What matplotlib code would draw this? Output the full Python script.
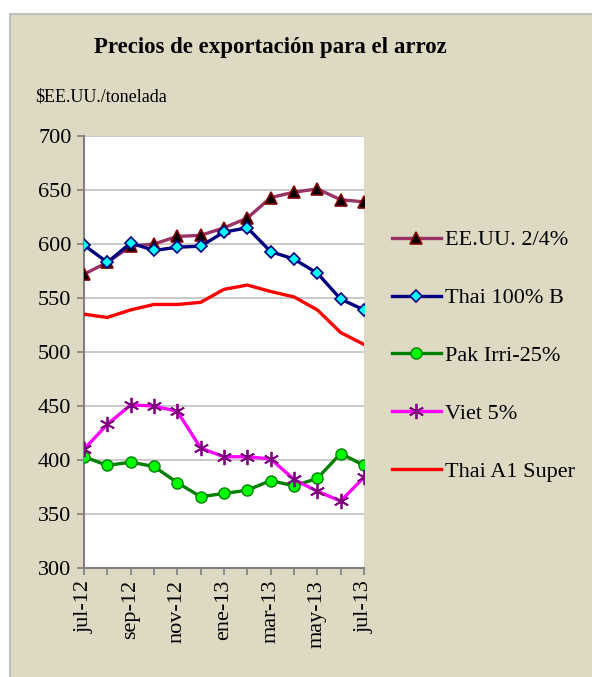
import matplotlib
matplotlib.use("Agg")
import matplotlib.pyplot as plt
from matplotlib.patches import Rectangle

plt.rcParams['font.family'] = ['Liberation Serif', 'DejaVu Serif']

# data (US$/tonne)
months = ['jul-12', 'ago-12', 'sep-12', 'oct-12', 'nov-12', 'dic-12', 'ene-13',
          'feb-13', 'mar-13', 'abr-13', 'may-13', 'jun-13', 'jul-13']
eeuu = [572, 583, 598, 600, 607, 608, 615, 624, 643, 648, 651, 641, 639]
thai100b = [599, 583, 601, 594, 597, 598, 611, 615, 593, 586, 573, 549, 539]
pak = [403, 395, 398, 394, 379, 366, 369, 372, 381, 376, 383, 406, 395]
viet = [410, 433, 451, 450, 445, 411, 403, 403, 401, 382, 371, 362, 384]
thai_a1 = [535, 532, 539, 544, 544, 546, 558, 562, 556, 551, 539, 518, 507]
yticks = [300, 350, 400, 450, 500, 550, 600, 650, 700]

fig = plt.figure(figsize=(5.92, 6.77), dpi=100, facecolor='white')
# beige frame
fig.patches.append(Rectangle((10 / 592, -0.05), 1.0, (677 - 14) / 677 + 0.05,
                             transform=fig.transFigure, facecolor='#DDD9C3',
                             edgecolor='#BFBFBF', linewidth=1.5, zorder=-1))

ax = fig.add_axes([84 / 592, (677 - 568) / 677, 280 / 592, 432 / 677])
ax.set_zorder(1)
ax.set_facecolor('white')
x = list(range(len(months)))

ax.plot(x, eeuu, color='#993366', lw=2.4, marker='^', ms=8.5,
        mfc='black', mec='#800000', mew=1.2, label='EE.UU. 2/4%', zorder=3)
ax.plot(x, thai100b, color='#000080', lw=2.4, marker='D', ms=6,
        mfc='#00FFFF', mec='#000080', mew=1.2, label='Thai 100% B', zorder=4)
ax.plot(x, pak, color='#008000', lw=2.4, marker='o', ms=8,
        mfc='#00FF00', mec='#008000', mew=1.0, label='Pak Irri-25%', zorder=3)
ax.plot(x, viet, color='#FF00FF', lw=2.4, marker=(6, 2, 0), ms=11,
        mec='#800080', mew=1.3, label='Viet 5%', zorder=3)
ax.plot(x, thai_a1, color='#FF0000', lw=2.4, label='Thai A1 Super', zorder=3)

ax.set_xlim(0, 12)
ax.set_ylim(300, 700)
ax.set_yticks(yticks)
ax.set_xticks(x)
ax.set_xticklabels([m if i % 2 == 0 else '' for i, m in enumerate(months)],
                   rotation=90)
ax.tick_params(axis='both', labelsize=16, direction='out', length=5,
               color='#808080', width=1.2)
ax.tick_params(axis='y', pad=4)
ax.grid(axis='y', color='#C0C0C0', lw=1.2)
ax.set_axisbelow(True)
for s in ['top', 'right']:
    ax.spines[s].set_visible(False)
for s in ['left', 'bottom']:
    ax.spines[s].set_color('#808080')
    ax.spines[s].set_linewidth(1.5)

fig.text(270 / 592, 1 - 48 / 677, 'Precios de exportación para el arroz',
         ha='center', va='center', fontsize=16.5, fontweight='bold')
fig.text(35 / 592, 1 - 97 / 677, '$EE.UU./tonelada', ha='left', va='center',
         fontsize=13)

leg = fig.legend(loc='upper left', bbox_to_anchor=(383 / 592, 1 - 221 / 677),
                 frameon=False, fontsize=16, labelspacing=1.68,
                 handlelength=2.2, handletextpad=0.2, borderaxespad=0)

fig.savefig('out.png', dpi=100, facecolor=fig.get_facecolor())
